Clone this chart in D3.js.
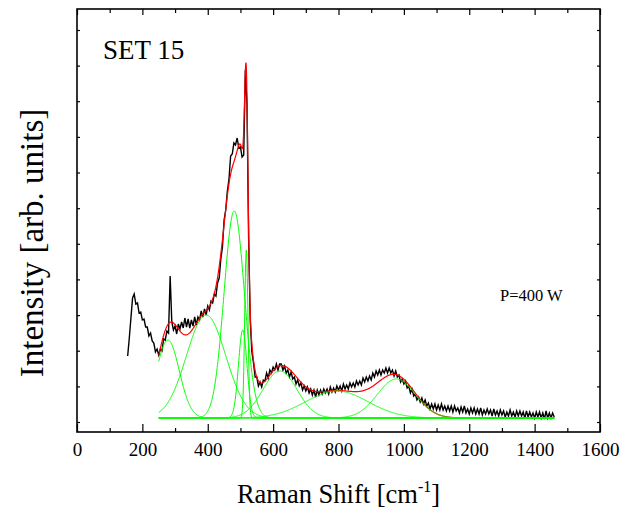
<!DOCTYPE html>
<html><head><meta charset="utf-8">
<script src="https://cdn.jsdelivr.net/npm/d3@7"></script>
<style>
body{margin:0;background:#fff}
svg{display:block}
text{font-family:"Liberation Serif","Times New Roman",serif;fill:#000}
</style>
</head><body>
<svg id="chart" width="631" height="510"></svg>
<script>
// ---------- data ----------
const xTicks = [0, 200, 400, 600, 800, 1000, 1200, 1400, 1600];
const xMinorTicks = [100, 300, 500, 700, 900, 1100, 1300, 1500];
const yTicks = [0, 35.6, 71.3, 106.9, 142.6, 178.2, 213.8, 249.5, 285.1, 320.8, 356.4, 392.0];

// measured spectrum (Raman shift from 155 cm-1 in 5 cm-1 steps), arb. units
const shiftStart = 155;
const shiftStep = 5;
const intensity = [
  66,84,104,124,128,118,119,109,110,102,
  103,95,95,86,89,81,79,70,73,67,
  73,71,83,82,91,89,146,100,92,96,
  88,98,93,100,94,104,95,103,94,102,
  96,105,97,105,102,111,105,113,107,116,
  112,121,119,128,126,139,144,163,175,202,
  212,231,243,266,268,279,277,284,274,275,
  265,267,352,318,185,101,70,59,45,45,
  36,40,35,42,41,49,44,52,49,55,
  52,58,52,58,58,52,56,49,52,45,
  50,43,45,38,42,36,39,32,36,31,
  35,29,33,27,32,25,32,27,32,28,
  33,29,33,28,35,30,34,30,36,32,
  36,31,38,33,37,33,39,35,39,35,
  41,37,41,37,44,40,45,41,46,42,
  49,45,51,47,52,47,52,49,54,49,
  54,49,52,46,51,45,47,40,43,38,
  41,34,36,29,33,26,28,22,25,20,
  24,18,22,16,19,13,18,13,18,12,
  17,12,18,12,16,11,16,11,16,10,
  16,11,14,9,15,10,16,9,13,8,
  14,9,14,8,13,8,14,7,12,8,
  13,8,12,6,13,7,11,6,12,7,
  11,5,10,6,12,6,10,5,11,6,
  11,6,10,4,11,5,10,5,9,4,
  10,5,10,4,9,3,11,4,9,4,
  9,5
];

// fitted Gaussian components (center cm-1, height, sigma cm-1)
const peakCenters = [278, 395, 481, 507, 518, 621, 795, 977];
const peakHeights = [78, 103, 207, 88, 168, 47, 27, 39];
const peakWidths  = [35, 60, 31, 13, 5, 52, 95, 58];
const fitBaseline = 4;
const fitRange = [250, 1460];

const annotation = "SET 15";
const powerLabel = "P=400 W";

// ---------- layout ----------
const svg = d3.select("#chart");
const L = 77, R = 600, T = 9, B = 432;
const x = d3.scaleLinear().domain([0, 1600]).range([L, R]);
const y = d3.scaleLinear().domain([-10, 413]).range([B, T]);

svg.append("clipPath").attr("id", "plotclip")
  .append("rect").attr("x", L).attr("y", T).attr("width", R - L).attr("height", B - T);
const plot = svg.append("g").attr("clip-path", "url(#plotclip)");

// spectrum
const spectrum = intensity.map((v, i) => ({s: shiftStart + i * shiftStep, v}));
const line = d3.line().x(d => x(d.s)).y(d => y(d.v));
plot.append("path").datum(spectrum).attr("d", line)
  .attr("fill", "none").attr("stroke", "#000").attr("stroke-width", 1.4)
  .attr("stroke-linejoin", "miter");

// components
const gauss = (s, k) => peakHeights[k] * Math.exp(-((s - peakCenters[k]) ** 2) / (2 * peakWidths[k] ** 2));
const grid = d3.range(fitRange[0], fitRange[1] + 0.5, 1);
const fit = grid.map(s => ({s, v: fitBaseline + d3.sum(peakCenters, (c, k) => gauss(s, k))}));
plot.append("path").datum(fit).attr("d", line)
  .attr("fill", "none").attr("stroke", "#ff0000").attr("stroke-width", 1.2);

peakCenters.forEach((c, k) => {
  const comp = grid.map(s => ({s, v: fitBaseline + gauss(s, k)}));
  plot.append("path").datum(comp).attr("d", line)
    .attr("fill", "none").attr("stroke", "#00ff00").attr("stroke-width", 1);
});

// ---------- axes ----------
function styleAxis(g) {
  g.select(".domain").remove();
  g.selectAll(".tick line").attr("stroke", "#000").attr("stroke-width", 1.2);
}
svg.append("g").attr("transform", `translate(0,${B})`)
  .call(d3.axisBottom(x).tickValues(xTicks).tickSizeInner(-8).tickSizeOuter(0).tickPadding(11).tickFormat(d3.format("d")))
  .call(styleAxis)
  .call(g => g.selectAll("text").attr("font-size", 19).attr("font-family", "Liberation Serif").attr("fill", "#000"));
svg.append("g").attr("transform", `translate(0,${B})`)
  .call(d3.axisBottom(x).tickValues(xMinorTicks).tickSizeInner(-4).tickSizeOuter(0).tickFormat(""))
  .call(styleAxis);
svg.append("g").attr("transform", `translate(0,${T})`)
  .call(d3.axisTop(x).tickValues(xTicks).tickSizeInner(-6).tickSizeOuter(0).tickFormat(""))
  .call(styleAxis);
svg.append("g").attr("transform", `translate(0,${T})`)
  .call(d3.axisTop(x).tickValues(xMinorTicks).tickSizeInner(-4).tickSizeOuter(0).tickFormat(""))
  .call(styleAxis);
svg.append("g").attr("transform", `translate(${L},0)`)
  .call(d3.axisLeft(y).tickValues(yTicks).tickSizeInner(-3).tickSizeOuter(0).tickFormat(""))
  .call(styleAxis);
svg.append("g").attr("transform", `translate(${R},0)`)
  .call(d3.axisRight(y).tickValues(yTicks).tickSizeInner(-3).tickSizeOuter(0).tickFormat(""))
  .call(styleAxis);

svg.append("rect").attr("x", L).attr("y", T).attr("width", R - L).attr("height", B - T)
  .attr("fill", "none").attr("stroke", "#000").attr("stroke-width", 1.6);

// ---------- text ----------
svg.append("text").attr("x", 103).attr("y", 59).attr("font-size", 27).text(annotation);
svg.append("text").attr("x", 500).attr("y", 301).attr("font-size", 16.5).text(powerLabel);

const xt = svg.append("text").attr("x", 338.5).attr("y", 503).attr("text-anchor", "middle").attr("font-size", 26.5);
xt.append("tspan").text("Raman Shift [cm");
xt.append("tspan").attr("font-size", 16).attr("dy", -11).text("-1");
xt.append("tspan").attr("dy", 11).text("]");

svg.append("text").attr("transform", "rotate(-90)").attr("x", -243).attr("y", 43)
  .attr("text-anchor", "middle").attr("font-size", 33).text("Intensity [arb. units]");
</script>
</body></html>
